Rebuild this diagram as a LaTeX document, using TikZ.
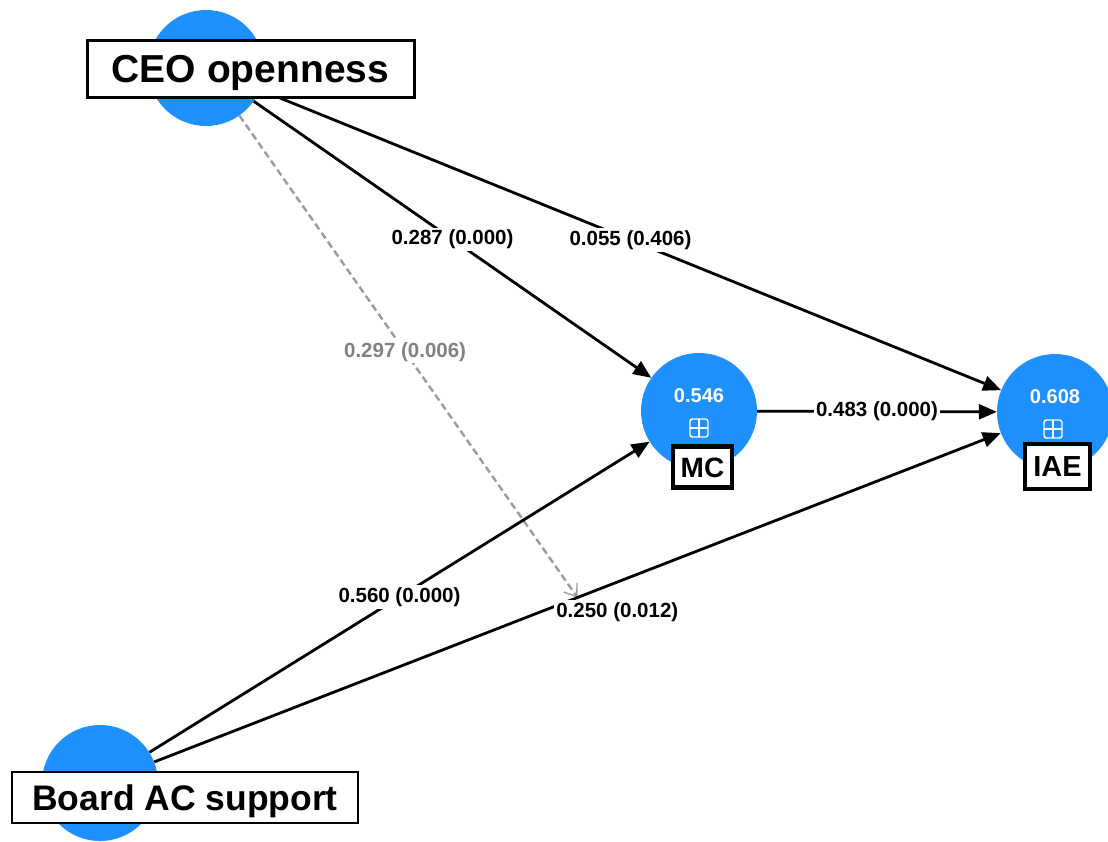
\documentclass[tikz,border=0pt]{standalone}
\usepackage{fontspec}
\setmainfont{Liberation Sans}
\usetikzlibrary{arrows.meta}
\definecolor{lvblue}{RGB}{30,144,255}
\definecolor{modgray}{RGB}{155,155,155}
\definecolor{modtext}{RGB}{130,130,130}

\begin{document}
\begin{tikzpicture}[x=1pt,y=-1pt,
  construct/.style={circle, fill=lvblue, minimum size=116pt, inner sep=0pt},
  namebox/.style={draw=black, fill=white, inner sep=0pt, text depth=0pt},
  effect/.style={line width=2.8pt, -{Triangle[length=18pt,width=15pt]}},
  moderation/.style={draw=modgray, line width=2.4pt, dash pattern=on 7pt off 4pt,
    -{Straight Barb[length=11pt,width=16pt,line width=1.4pt]}},
  coef/.style={fill=white, inner sep=2pt, font=\fontsize{20.5}{22}\selectfont\bfseries},
  modcoef/.style={coef, text=modtext},
  r2/.style={text=white, inner sep=0pt, font=\fontsize{20}{22}\selectfont\bfseries},
  plusicon/.style={draw=white, line width=1.4pt, rounded corners=2.5pt,
    minimum size=18pt, inner sep=0pt,
    path picture={\draw[white, line width=1.4pt]
      (path picture bounding box.north) -- (path picture bounding box.south)
      (path picture bounding box.west) -- (path picture bounding box.east);}}
]
\useasboundingbox (0,0) rectangle (1108,841);
\clip (0,0) rectangle (1108,841);

% latent variables
\node[construct] (ceo) at (206,68) {};
\node[construct] (mc) at (699,411) {};
\node[construct] (iae) at (1055,412) {};
\node[construct] (board) at (100,783) {};

% R-squared values and expand icons
\node[r2] (mcval) at (699,396) {0.546};
\node[plusicon] (mcicon) at (699,428) {};
\node[r2] (iaeval) at (1055,397) {0.608};
\node[plusicon] (iaeicon) at (1053,429) {};

% point on the Board -> IAE path hit by the moderating effect
\path (board) -- coordinate[pos=0.5] (mod) (iae);

% moderating effect (drawn first so the solid paths lie over it)
\draw[moderation] (ceo) -- node[modcoef, pos=0.49] {0.297 (0.006)} (mod);

% structural paths
\draw[effect] (ceo) -- node[coef] {0.287 (0.000)} (mc);
\draw[effect] (ceo) -- node[coef] {0.055 (0.406)} (iae);
\draw[effect] (mc) -- node[coef] {0.483 (0.000)} (iae);
\draw[effect] (board) -- node[coef] {0.560 (0.000)} (mc);
\draw[effect] (board) -- node[coef, pos=0.547, yshift=-30pt] {0.250 (0.012)} (iae);

% construct names
\node[namebox, line width=3pt, minimum width=327pt, minimum height=57pt, text height=27pt,
  font=\fontsize{39}{40}\selectfont\bfseries] (ceolbl) at (250.5,68.5) {CEO openness};
\node[namebox, line width=2.6pt, minimum width=346pt, minimum height=51pt, text height=25pt,
  font=\fontsize{35.5}{37}\selectfont\bfseries] (boardlbl) at (185,797.5) {Board AC support};
\node[namebox, line width=4.5pt, minimum width=59pt, minimum height=41pt, text height=20pt,
  font=\fontsize{28}{30}\selectfont\bfseries] (mclbl) at (702.5,467) {MC};
\node[namebox, line width=4pt, minimum width=65pt, minimum height=45pt, text height=21pt,
  font=\fontsize{29}{30}\selectfont\bfseries] (iaelbl) at (1057.5,466) {IAE};
\end{tikzpicture}
\end{document}
